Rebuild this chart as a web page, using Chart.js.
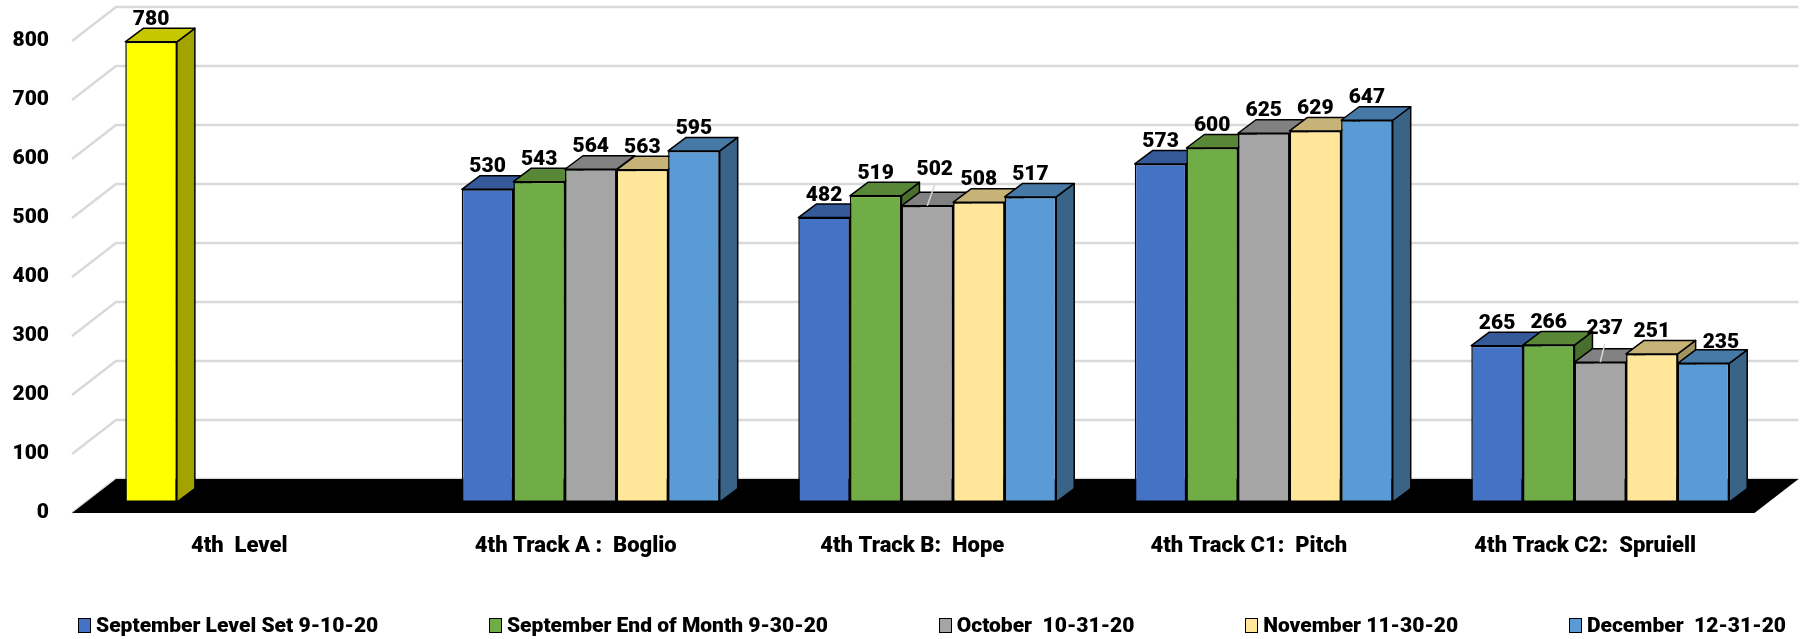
<!DOCTYPE html>
<html><head><meta charset="utf-8">
<script src="https://cdn.jsdelivr.net/npm/chart.js@4.4.1/dist/chart.umd.min.js"></script>
<style>
html,body{margin:0;padding:0;background:#fff;}
#wrap{position:relative;width:1800px;height:639px;overflow:hidden;background:#fff;}
#legend{position:absolute;left:78px;width:1708px;top:613px;height:24px;display:flex;justify-content:space-between;align-items:center;font:900 21px Roboto, Lato, sans-serif;color:#000;}
#legend .item{display:flex;align-items:center;white-space:pre;}
#legend .box{width:13px;height:15px;border:1px solid #000;margin-right:5px;box-sizing:border-box;}
</style></head><body>
<div id="wrap"><canvas id="c" width="1800" height="639"></canvas><div id="legend"></div></div>
<script>
// ---- data ----
const categories = ['4th  Level', '4th Track A :  Boglio', '4th Track B:  Hope', '4th Track C1:  Pitch', '4th Track C2:  Spruiell'];
const seriesNames = ['September Level Set 9-10-20', 'September End of Month 9-30-20', 'October  10-31-20', 'November 11-30-20', 'December  12-31-20'];
const septLevelSet   = [780, 530, 482, 573, 265];
const septEndOfMonth = [null, 543, 519, 600, 266];
const october        = [null, 564, 502, 625, 237];
const november       = [null, 563, 508, 629, 251];
const december       = [null, 595, 517, 647, 235];
const yTickValues    = [0, 100, 200, 300, 400, 500, 600, 700, 800];

// ---- styles ----
const seriesColors = ['#4472C4', '#70AD47', '#A5A5A5', '#FFE699', '#5B9BD5'];
const levelColor = '#FFFF00';
const FONT = 'Roboto, Lato, sans-serif';
const DEPTH = [18, -13.5];        // bar depth offset
const FRONT = [-14, 11];          // front plane (floor edge, axis labels) vs bar plane
const BACK = [30, -23];           // back wall vs bar plane
// manual label placement tweaks: "dataset,category": [dx, dy, leaderLine]
const labelNudges = {'2,2': [7.5, -14, true], '2,4': [4.5, -11, true], '4,4': [17.5, 1.5, false]};

function shade(hex, f) {
  const n = parseInt(hex.slice(1), 16);
  const r = Math.round(((n >> 16) & 255) * f), g = Math.round(((n >> 8) & 255) * f), b = Math.round((n & 255) * f);
  return 'rgb(' + r + ',' + g + ',' + b + ')';
}
function poly(ctx, pts, fill) {
  ctx.beginPath();
  ctx.moveTo(pts[0][0], pts[0][1]);
  for (let i = 1; i < pts.length; i++) ctx.lineTo(pts[i][0], pts[i][1]);
  ctx.closePath();
  ctx.fillStyle = fill; ctx.fill(); ctx.stroke();
}

const seriesData = [septLevelSet, septEndOfMonth, october, november, december];
const datasets = seriesData.map((d, i) => ({
  label: seriesNames[i],
  data: d,
  backgroundColor: i === 0 ? categories.map((c, k) => k === 0 ? levelColor : seriesColors[0]) : seriesColors[i],
  legendColor: seriesColors[i],
  borderColor: '#000',
  borderWidth: 1.5,
  borderSkipped: false
}));

const bars3d = {
  id: 'bars3d',
  beforeDatasetsDraw(chart) {
    const {ctx, chartArea: a, scales: {y}} = chart;
    ctx.save();
    // walls gridlines
    ctx.strokeStyle = '#d9d9d9'; ctx.lineWidth = 2.5;
    y.ticks.forEach(t => {
      const py = y.getPixelForValue(t.value);
      ctx.beginPath();
      ctx.moveTo(a.left + FRONT[0], py + FRONT[1]);
      ctx.lineTo(a.left + BACK[0], py + BACK[1]);
      ctx.lineTo(a.right + BACK[0], py + BACK[1]);
      ctx.stroke();
    });
    // floor
    const p0 = y.getPixelForValue(0);
    ctx.fillStyle = '#000';
    ctx.beginPath();
    ctx.moveTo(a.left + FRONT[0], p0 + FRONT[1]);
    ctx.lineTo(a.right + FRONT[0], p0 + FRONT[1]);
    ctx.lineTo(a.right + BACK[0], p0 + BACK[1]);
    ctx.lineTo(a.left + BACK[0], p0 + BACK[1]);
    ctx.closePath(); ctx.fill();
    // bars, painter's order left to right
    const ds = chart.data.datasets;
    for (let c = 0; c < chart.data.labels.length; c++) {
      for (let d = 0; d < ds.length; d++) {
        if (ds[d].data[c] == null) continue;
        const el = chart.getDatasetMeta(d).data[c];
        el.draw(ctx);
        const {x, y: yt, base, width} = el.getProps(['x', 'y', 'base', 'width'], true);
        const xl = x - width / 2, xr = x + width / 2;
        const col = el.options.backgroundColor;
        ctx.save();
        ctx.lineWidth = 1.5; ctx.strokeStyle = '#000'; ctx.lineJoin = 'round';
        poly(ctx, [[xr, yt], [xr + DEPTH[0], yt + DEPTH[1]], [xr + DEPTH[0], base + DEPTH[1]], [xr, base]], shade(col, 0.64));
        poly(ctx, [[xl, yt], [xl + DEPTH[0], yt + DEPTH[1]], [xr + DEPTH[0], yt + DEPTH[1]], [xr, yt]], shade(col, 0.78));
        ctx.restore();
      }
    }
    ctx.restore();
    return false;
  },
  afterDraw(chart) {
    const ctx = chart.ctx;
    ctx.save();
    ctx.font = '900 21px ' + FONT;
    ctx.fillStyle = '#000'; ctx.textAlign = 'center'; ctx.textBaseline = 'alphabetic';
    chart.data.datasets.forEach((dset, d) => {
      const meta = chart.getDatasetMeta(d);
      meta.data.forEach((el, c) => {
        const v = dset.data[c];
        if (v == null) return;
        const n = labelNudges[d + ',' + c] || [0, 0, false];
        const lx = el.x + n[0], bl = el.y - 17 + n[1];
        if (n[2]) {
          ctx.strokeStyle = '#d6d6d6'; ctx.lineWidth = 1.5;
          ctx.beginPath(); ctx.moveTo(lx, bl + 10); ctx.lineTo(el.x, el.y); ctx.stroke();
        }
        ctx.fillText(String(v), lx, bl);
      });
    });
    ctx.restore();
  }
};

const chart = new Chart(document.getElementById('c'), {
  type: 'bar',
  data: {labels: categories, datasets},
  options: {
    responsive: false,
    animation: false,
    devicePixelRatio: 1,
    datasets: {bar: {categoryPercentage: 0.7665, barPercentage: 1.0}},
    layout: {padding: {left: 0, right: 31.5, top: 30, bottom: 57}},
    scales: {
      x: {
        grid: {display: false, drawTicks: false}, border: {display: false},
        ticks: {font: {family: FONT, size: 22, weight: 900}, color: '#000', labelOffset: -15, padding: 31, maxRotation: 0, autoSkip: false},
        afterFit: s => { s.height = 80; s.paddingLeft = 0; s.paddingRight = 0; }
      },
      y: {
        min: 0, max: 800,
        afterBuildTicks: s => { s.ticks = yTickValues.map(v => ({value: v})); },
        grid: {display: false, drawTicks: false}, border: {display: false},
        ticks: {font: {family: FONT, size: 21, weight: 900}, color: '#000', padding: 37, labelOffset: 11},
        afterFit: s => { s.width = 86; s.paddingTop = 0; s.paddingBottom = 0; }
      }
    },
    plugins: {legend: {display: false}, tooltip: {enabled: false}}
  },
  plugins: [bars3d]
});

// HTML legend built from the chart's datasets
const leg = document.getElementById('legend');
chart.data.datasets.forEach(ds => {
  const it = document.createElement('div'); it.className = 'item';
  const b = document.createElement('span'); b.className = 'box'; b.style.background = ds.legendColor;
  const t = document.createElement('span'); t.textContent = ds.label;
  it.appendChild(b); it.appendChild(t); leg.appendChild(it);
});
</script>
</body></html>
